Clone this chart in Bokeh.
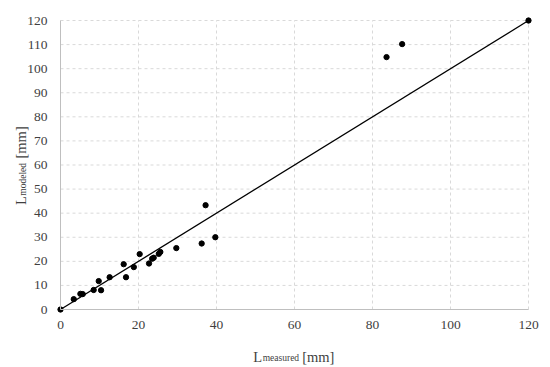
import math
from bokeh.plotting import figure
from bokeh.models import Range1d, FixedTicker
from bokeh.core.properties import value
from bokeh.embed import file_html
from bokeh.resources import INLINE

# data
measured = [0, 3.4, 5.1, 5.7, 8.5, 9.8, 10.4, 12.6, 16.2, 16.8, 18.8, 20.3, 22.7,
            23.5, 23.9, 25.2, 25.6, 29.7, 36.2, 37.2, 39.7, 83.6, 87.6, 120]
modeled = [0, 4.3, 6.5, 6.4, 8.1, 11.8, 8.0, 13.4, 18.8, 13.4, 17.6, 23.0, 19.1,
           21.1, 21.5, 23.1, 23.9, 25.5, 27.4, 43.3, 30.0, 104.8, 110.2, 120]
line_x = [0, 120]
line_y = [0, 120]
x_ticks = [0, 20, 40, 60, 80, 100, 120]
y_ticks = [0, 10, 20, 30, 40, 50, 60, 70, 80, 90, 100, 110, 120]
x_label = ["L", "measured", "[mm]"]
y_label = ["L", "modeled", "[mm]"]

FONT = "Liberation Serif"
TXT = "#3f3f3f"
W, H = 550, 367
# pixel placement of the plotting area inside the page
LEFT, RIGHT, TOP, BOTTOM = 60, 528, 20, 309
XMAX, YMAX = x_ticks[-1], y_ticks[-1]
sx = (RIGHT - LEFT) / XMAX
sy = (BOTTOM - TOP) / YMAX

def dx(px):
    return (px - LEFT) / sx

def dy(py):
    return (BOTTOM - py) / sy

p = figure(width=W, height=H, output_backend="svg", toolbar_location=None,
           x_range=Range1d(dx(0), dx(W)), y_range=Range1d(dy(H), dy(0)),
           min_border=0, min_border_left=0, min_border_right=0,
           min_border_top=0, min_border_bottom=0)
p.outline_line_color = None
p.xgrid.visible = False
p.ygrid.visible = False

for ax, ticks in ((p.xaxis, x_ticks), (p.yaxis, y_ticks)):
    ax.ticker = FixedTicker(ticks=ticks)
    ax.fixed_location = 0
    ax.bounds = (ticks[0], ticks[-1])
    ax.axis_line_color = "#bfbfbf"
    ax.axis_line_width = 1
    ax.major_tick_line_color = None
    ax.minor_tick_line_color = None
    ax.major_tick_out = 0
    ax.major_tick_in = 0
    ax.major_label_text_font = FONT
    ax.major_label_text_font_size = "13.5px"
    ax.major_label_text_color = TXT
p.xaxis.major_label_standoff = 11
p.yaxis.major_label_standoff = 13

# dashed gridlines inside the plotting area only
gx = x_ticks[1:]
gy = y_ticks[1:]
p.segment(x0=gx, y0=[0] * len(gx), x1=gx, y1=[YMAX] * len(gx),
          line_color="#d9d9d9", line_dash="3 3", line_width=1)
p.segment(x0=[0] * len(gy), y0=gy, x1=[XMAX] * len(gy), y1=gy,
          line_color="#d9d9d9", line_dash="3 3", line_width=1)

p.line(line_x, line_y, line_color="black", line_width=1.3)
p.scatter(measured, modeled, size=5.3, fill_color="black", line_color="black")

MAIN = "14.5px"
SUB = "9.5px"
# x axis title  L_measured [mm]
p.text(x=[dx(252.7)], y=[dy(356)], text=[x_label[0]], text_font=value(FONT),
       text_font_size=MAIN, text_color=TXT, text_align="left", text_baseline="alphabetic")
p.text(x=[dx(262.2)], y=[dy(357.8)], text=[x_label[1]], text_font=value(FONT),
       text_font_size=SUB, text_color=TXT, text_align="left", text_baseline="alphabetic")
p.text(x=[dx(301.7)], y=[dy(356)], text=[x_label[2]], text_font=value(FONT),
       text_font_size=MAIN, text_color=TXT, text_align="left", text_baseline="alphabetic")

# y axis title  L_modeled [mm], rotated
ang = math.pi / 2
p.text(x=[dx(20.7)], y=[dy(204.5)], text=[y_label[0]], text_font=value(FONT), angle=ang,
       text_font_size=MAIN, text_color=TXT, text_align="left", text_baseline="alphabetic")
p.text(x=[dx(22.5)], y=[dy(195.2)], text=[y_label[1]], text_font=value(FONT), angle=ang,
       text_font_size=SUB, text_color=TXT, text_align="left", text_baseline="alphabetic")
p.text(x=[dx(20.7)], y=[dy(158.0)], text=[y_label[2]], text_font=value(FONT), angle=ang,
       text_font_size=MAIN, text_color=TXT, text_align="left", text_baseline="alphabetic")

open("out.html", "w").write(file_html(p, INLINE))
